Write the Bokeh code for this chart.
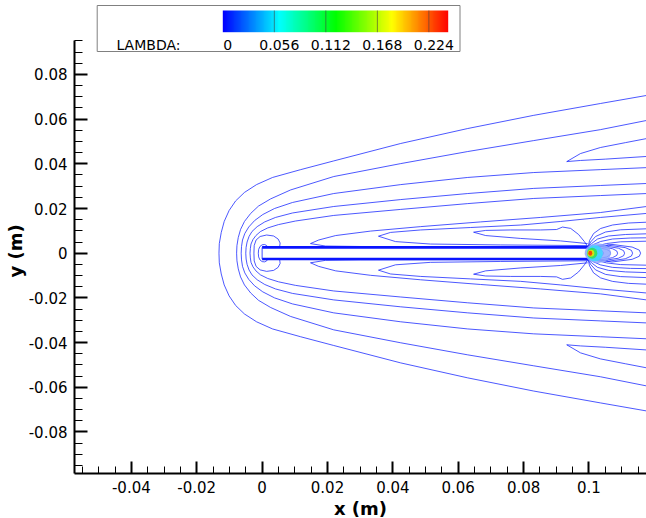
import numpy as np
from bokeh.plotting import figure
from bokeh.models import (Range1d, SingleIntervalTicker, CustomJSTickFormatter,
                          LinearColorMapper, Title)
from bokeh.core.properties import value
from bokeh.embed import file_html
from bokeh.resources import INLINE

# ---------------- axis extents (m) ----------------
X_RANGE = (-0.0574, 0.1176)
Y_RANGE = (-0.0986, 0.1131)
Y_AXIS_TOP = 0.0951

# ---------------- colour legend ----------------
LEVELS = [0, 0.056, 0.112, 0.168, 0.224]
LEVEL_LABELS = ["0", "0.056", "0.112", "0.168", "0.224"]
LEVEL_MAX = 0.245
LEGEND_TITLE = "LAMBDA:"

# ---------------- plate ----------------
PLATE_X = [0.0, 0.1]
PLATE_HALF = 0.0026

# ---------------- contour lines (upper half, mirrored below) ----------------
outer_x = [-0.0132, -0.0131, -0.0125, -0.0116, -0.0101, -0.0081, -0.0054, -0.0017, 0.0032, 0.0118, 0.0219, 0.0424, 0.0629, 0.0831, 0.1035, 0.1176]
outer_y = [0.0, 0.0043, 0.0093, 0.0142, 0.0191, 0.0234, 0.0272, 0.0307, 0.0339, 0.0374, 0.0413, 0.0491, 0.0558, 0.0617, 0.0670, 0.0706]

c1_x = [-0.0078, -0.0077, -0.0073, -0.0066, -0.0054, -0.0035, -0.0011, 0.0026, 0.0087, 0.0219, 0.0424, 0.0629, 0.0831, 0.1035, 0.1176]
c1_y = [0.0, 0.0034, 0.0070, 0.0106, 0.0142, 0.0178, 0.0211, 0.0243, 0.0283, 0.0343, 0.0401, 0.0455, 0.0504, 0.0553, 0.0594]

c2_x = [-0.0064, -0.0063, -0.0060, -0.0053, -0.0041, -0.0023, 0.0002, 0.0038, 0.0093, 0.0219, 0.0424, 0.0629, 0.0831, 0.1035, 0.1176]
c2_y = [0.0, 0.0030, 0.0059, 0.0088, 0.0117, 0.0146, 0.0173, 0.0200, 0.0227, 0.0267, 0.0307, 0.0339, 0.0361, 0.0374, 0.0383]

c3_x = [-0.0050, -0.0049, -0.0046, -0.0040, -0.0031, -0.0015, 0.0008, 0.0041, 0.0093, 0.0219, 0.0424, 0.0629, 0.0831, 0.1035, 0.1176]
c3_y = [0.0, 0.0026, 0.0050, 0.0075, 0.0097, 0.0119, 0.0140, 0.0160, 0.0180, 0.0209, 0.0240, 0.0267, 0.0290, 0.0303, 0.0312]

c4_x = [-0.0037, -0.0036, -0.0034, -0.0028, -0.0019, -0.0005, 0.0017, 0.0050, 0.0102, 0.0219, 0.0424, 0.0629, 0.0831, 0.1035, 0.1176]
c4_y = [0.0, 0.0021, 0.0041, 0.0061, 0.0079, 0.0097, 0.0113, 0.0128, 0.0144, 0.0169, 0.0196, 0.0222, 0.0245, 0.0258, 0.0267]

t4_x = [0.1176, 0.1112, 0.1035, 0.0974, 0.0932, 0.0974, 0.1050, 0.1176]
t4_y = [0.0513, 0.0495, 0.0473, 0.0446, 0.0410, 0.0415, 0.0421, 0.0433]

t1_x = [0.1176, 0.1035, 0.0852, 0.0668, 0.0485, 0.0332, 0.0225, 0.0173, 0.0148, 0.0194, 0.0301, 0.0600, 0.0995]
t1_y = [0.0209, 0.0182, 0.0160, 0.0140, 0.0119, 0.0099, 0.0079, 0.0059, 0.0043, 0.0032, 0.0030, 0.0029, 0.0028]

t2_x = [0.1176, 0.1035, 0.0913, 0.0791, 0.0638, 0.0485, 0.0393, 0.0356, 0.0408, 0.0515, 0.0730, 0.0996]
t2_y = [0.0178, 0.0160, 0.0142, 0.0126, 0.0115, 0.0104, 0.0093, 0.0076, 0.0052, 0.0041, 0.0037, 0.0034]

t3_x = [0.0996, 0.0986, 0.0968, 0.0944, 0.0919, 0.0901, 0.0852, 0.0760, 0.0684, 0.0647, 0.0684, 0.0791, 0.0913, 0.0996]
t3_y = [0.0030, 0.0052, 0.0084, 0.0111, 0.0117, 0.0106, 0.0104, 0.0104, 0.0102, 0.0094, 0.0079, 0.0066, 0.0055, 0.0043]

f1_x = [0.09973, 0.10018, 0.10141, 0.10355, 0.10722, 0.11212, 0.11762]
f1_y = [0.00268, 0.00568, 0.00881, 0.01105, 0.01262, 0.01351, 0.01387]
f2_x = [0.09973, 0.10049, 0.10202, 0.10508, 0.10967, 0.11762]
f2_y = [0.00268, 0.00501, 0.00747, 0.00949, 0.01047, 0.01092]
f3_x = [0.09973, 0.10080, 0.10263, 0.10600, 0.11120, 0.11762]
f3_y = [0.00268, 0.00434, 0.00635, 0.00770, 0.00837, 0.00868]
f4_x = [0.09988, 0.10141, 0.10355, 0.10722, 0.11273, 0.11762]
f4_y = [0.00255, 0.00389, 0.00523, 0.00635, 0.00680, 0.00689]
f5_x = [0.10003, 0.10233, 0.10539, 0.10967, 0.11762]
f5_y = [0.00233, 0.00322, 0.00434, 0.00510, 0.00537]

k1_x = [0.09988, 0.10196, 0.10360, 0.10430, 0.10447]
k1_y = [0.00233, 0.00201, 0.00140, 0.00070, 0.0]
k2_x = [0.09988, 0.10291, 0.10540, 0.10640, 0.10661]
k2_y = [0.00233, 0.00246, 0.00170, 0.00085, 0.0]
k3_x = [0.09988, 0.10386, 0.10720, 0.10850, 0.10875]
k3_y = [0.00233, 0.00291, 0.00200, 0.00100, 0.0]
k4_x = [0.09988, 0.10483, 0.10900, 0.11060, 0.11089]
k4_y = [0.00233, 0.00322, 0.00225, 0.00112, 0.0]
k5_x = [0.09988, 0.10593, 0.11110, 0.11300, 0.11334]
k5_y = [0.00233, 0.00358, 0.00250, 0.00125, 0.0]
k6_x = [0.09988, 0.10704, 0.11320, 0.11540, 0.11579]
k6_y = [0.00233, 0.00394, 0.00275, 0.00137, 0.0]

bean_x = [-0.00251, -0.00242, -0.00184, -0.00061, 0.00138, 0.00352, 0.00489, 0.00551, 0.00535]
bean_y = [0.0, 0.00345, 0.00591, 0.00747, 0.00814, 0.00770, 0.00635, 0.00456, 0.00268]
arc_x = [-0.00116, -0.00107, -0.00067, 0.0, 0.00076, 0.00138, 0.00168]
arc_y = [0.0, 0.00166, 0.00300, 0.00376, 0.00389, 0.00345, 0.00268]

# trailing-edge peak (filled levels)
blob_x = [0.1027, 0.10180, 0.10100, 0.10060, 0.10040]
blob_w = [0.0080, 0.00490, 0.00310, 0.00210, 0.00120]
blob_h = [0.0090, 0.00720, 0.00490, 0.00310, 0.00220]
blob_c = ["#8fa8ff", "#38d8ff", "#30e050", "#e8e800", "#ff2a00"]

# ---------------- figure ----------------
FL, FW, FH = 74, 572, 473

def sx(px):
    return X_RANGE[0] + (px - FL) * (X_RANGE[1] - X_RANGE[0]) / FW

def sy(py):
    return Y_RANGE[1] - py * (Y_RANGE[1] - Y_RANGE[0]) / FH

p = figure(frame_width=FW, frame_height=FH, output_backend="svg", toolbar_location=None,
           x_range=Range1d(*X_RANGE), y_range=Range1d(*Y_RANGE),
           min_border_left=FL, min_border_right=0, min_border_top=0,
           min_border_bottom=44)
p.outline_line_color = None
p.xgrid.visible = False
p.ygrid.visible = False
p.background_fill_color = "white"

fmt = CustomJSTickFormatter(code="return Number(tick.toFixed(4)).toString();")
for ax in (p.xaxis[0], p.yaxis[0]):
    ax.ticker = SingleIntervalTicker(interval=0.02, num_minor_ticks=4)
    ax.formatter = fmt
    ax.axis_line_width = 2
    ax.axis_line_color = "black"
    ax.major_tick_in = 12
    ax.major_tick_out = 0
    ax.minor_tick_in = 7
    ax.minor_tick_out = 0
    ax.major_tick_line_width = 2
    ax.minor_tick_line_width = 1
    ax.major_label_text_font = "DejaVu Sans"
    ax.major_label_text_font_size = "15px"
    ax.major_label_text_color = "black"
    ax.major_label_standoff = 7
p.yaxis[0].bounds = (Y_RANGE[0], Y_AXIS_TOP)
p.yaxis[0].major_tick_in = 13
p.yaxis[0].minor_tick_in = 8

# axis titles
p.add_layout(Title(text="x (m)", align="center", standoff=0,
                   text_font="DejaVu Sans", text_font_style="bold",
                   text_font_size="18px", text_color="black"), "below")
p.add_layout(Title(text="y (m)", align="left", standoff=0, offset=196,
                   text_font="DejaVu Sans", text_font_style="bold",
                   text_font_size="18px", text_color="black"), "left")

# contour lines
upper = [(outer_x, outer_y), (c1_x, c1_y), (c2_x, c2_y), (c3_x, c3_y), (c4_x, c4_y),
         (t4_x, t4_y), (t1_x, t1_y), (t2_x, t2_y), (t3_x, t3_y),
         (f1_x, f1_y), (f2_x, f2_y), (f3_x, f3_y), (f4_x, f4_y), (f5_x, f5_y),
         (k1_x, k1_y), (k2_x, k2_y), (k3_x, k3_y), (k4_x, k4_y), (k5_x, k5_y), (k6_x, k6_y),
         (bean_x, bean_y), (arc_x, arc_y)]
xs, ys = [], []
for cx, cy in upper:
    xs.append(list(cx)); ys.append(list(cy))
    xs.append(list(cx)); ys.append([-v for v in cy])
p.multi_line(xs, ys, line_color="#1020ff", line_width=1, line_alpha=0.75)

# plate
p.segment(x0=[PLATE_X[0], PLATE_X[0]], y0=[PLATE_HALF, -PLATE_HALF],
          x1=[PLATE_X[1], PLATE_X[1]], y1=[PLATE_HALF, -PLATE_HALF],
          line_color="#0a14ff", line_width=2.6)
p.segment(x0=[PLATE_X[0]], y0=[-PLATE_HALF], x1=[PLATE_X[0]], y1=[PLATE_HALF],
          line_color="#1020ff", line_width=1, line_alpha=0.8)

# trailing-edge peak
p.ellipse(x=blob_x, y=[0.0] * len(blob_x), width=blob_w, height=blob_h,
          fill_color=blob_c, fill_alpha=0.85, line_color=None)

# ---------------- colour legend (layout in pixels) ----------------
p.quad(left=[sx(96.7)], right=[sx(459.5)], top=[sy(5)], bottom=[sy(51)],
       fill_color="white", line_color="#808080", line_width=1)
palette = []
stops = [(0, 0, 255), (0, 255, 255), (0, 255, 0), (255, 255, 0), (255, 0, 0)]
for i in range(256):
    t = i / 255 * 4
    k = min(int(t), 3)
    f = t - k
    c = [int(round(stops[k][j] + (stops[k + 1][j] - stops[k][j]) * f)) for j in range(3)]
    palette.append("#%02x%02x%02x" % tuple(c))
mapper = LinearColorMapper(palette=palette, low=0, high=LEVEL_MAX)
bar_l, bar_r, bar_t, bar_b = sx(222.3), sx(447.7), sy(10), sy(31.7)
p.image(image=[np.linspace(0, LEVEL_MAX, 256).reshape(1, -1)], x=bar_l, y=bar_b,
        dw=bar_r - bar_l, dh=bar_t - bar_b, color_mapper=mapper)
lev_x = [bar_l + (bar_r - bar_l) * v / LEVEL_MAX for v in LEVELS[1:]]
p.segment(x0=lev_x, y0=[bar_b] * len(lev_x), x1=lev_x, y1=[bar_t] * len(lev_x),
          line_color="#404040", line_alpha=0.6, line_width=1)
off = (X_RANGE[1] - X_RANGE[0]) / FW * 5
p.text(x=[bar_l + (bar_r - bar_l) * v / LEVEL_MAX + off for v in LEVELS],
       y=[sy(44.5)] * len(LEVELS), text=LEVEL_LABELS,
       text_font=value("DejaVu Sans"), text_font_size="14px",
       text_align="center", text_baseline="middle", text_color="black")
p.text(x=[sx(116)], y=[sy(44.5)], text=[LEGEND_TITLE],
       text_font=value("DejaVu Sans"), text_font_size="14px",
       text_align="left", text_baseline="middle", text_color="black")

open("out.html", "w").write(file_html(p, INLINE))
